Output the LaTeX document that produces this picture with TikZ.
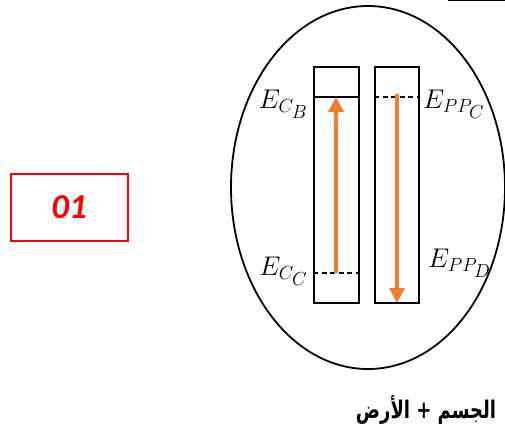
\RequirePackage{fix-cm}
\documentclass[tikz,border=0pt]{standalone}
\usepackage{fontspec}
\usetikzlibrary{shapes.geometric,arrows.meta}
\TeXXeTstate=1
\newfontfamily\arabicfont[Script=Arabic]{DejaVu Sans}
\newfontfamily\numfont{Carlito}
\definecolor{flecheorange}{RGB}{237,125,49}
\tikzset{
  colonne/.style={draw, line width=2pt, minimum width=45pt, minimum height=236pt, inner sep=0pt},
  niveau/.style={line width=1.4pt},
  pointille/.style={niveau, dash pattern=on 5pt off 3.5pt},
  fleche/.style={flecheorange, line width=3.2pt, -{Triangle[width=15pt,length=15pt]}},
  etiquette/.style={inner sep=0pt, font=\fontsize{27}{30}\selectfont},
}
\begin{document}
\begin{tikzpicture}[x=1pt, y=-1pt]
			\useasboundingbox (0,0) rectangle (505,432);
			%Systeme
			\node[draw, ellipse, line width=1.8pt, minimum width=274pt, minimum height=363pt, inner sep=0pt] (sys) at (368,187.5) {};
			\node[draw=red, line width=2pt, minimum width=117pt, minimum height=67pt, inner sep=0pt, text=red] (num) at (69,207.5) {\numfont\bfseries\itshape\fontsize{35}{40}\selectfont 01};
			\draw[line width=1.5pt] (448,0.7) -- (505,0.7);
			%Colonnes
			\node[colonne] (colC) at (336.5,185) {};
			\node[colonne, minimum width=44pt] (colP) at (397,185) {};
			%Niveaux
			\coordinate (CB) at (336,97);
			\coordinate (CC) at (336,273);
			\coordinate (PC) at (397,97);
			\coordinate (PD) at (397,303);
			\draw[niveau] (colC.west |- CB) -- (colC.east |- CB);
			\draw[pointille] (colC.west |- CC) -- (colC.east |- CC);
			\draw[pointille] (colP.west |- PC) -- (colP.east |- PC);
			%Fleches
			\draw[fleche] (CC) -- (CB);
			\draw[fleche] ([yshift=3pt]PC) -- (PD);
			%Etiquettes
			\node[etiquette, anchor=east] (eCB) at (308,104) {$E_{C_{\scriptstyle B}}$};
			\node[etiquette, anchor=east] (eCC) at (308,271) {$E_{C_{\scriptstyle C}}$};
			\node[etiquette, anchor=west] (ePC) at (423,104) {$E_{PP_{\scriptstyle C}}$};
			\node[etiquette, anchor=west] (ePD) at (428,263) {$E_{PP_{\scriptstyle D}}$};
			\node (titre) at (426,410) {\scalebox{1}[1.35]{\arabicfont\bfseries\fontsize{18}{24}\selectfont\beginR الجسم + الأرض\endR}};
		\end{tikzpicture}
\end{document}
